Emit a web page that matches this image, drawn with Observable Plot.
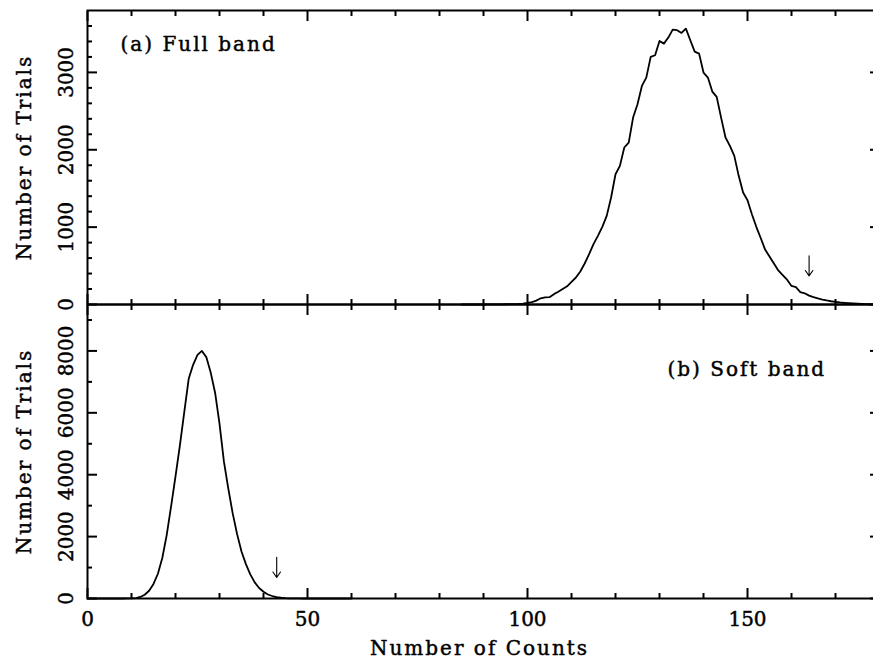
<!DOCTYPE html>
<html><head><meta charset="utf-8">
<script src="https://cdn.jsdelivr.net/npm/d3@7"></script>
<script src="https://cdn.jsdelivr.net/npm/@observablehq/plot@0.6"></script>
<style>
html,body{margin:0;padding:0;background:#fff;}
#wrap{position:relative;width:873px;height:660px;overflow:hidden;background:#fff;}
#wrap svg{position:absolute;left:0;top:0;}
</style></head><body><div id="wrap"></div>
<script>
// ---- Data: (a) Full band ----
const fullCounts = [85,86,87,88,89,90,91,92,93,94,95,96,97,98,99,100,101,102,103,104,105,106,107,108,109,110,111,112,113,114,115,116,117,118,119,120,121,122,123,124,125,126,127,128,129,130,131,132,133,134,135,136,137,138,139,140,141,142,143,144,145,146,147,148,149,150,151,152,153,154,155,156,157,158,159,160,161,162,163,164,165,166,167,168,169,170,171,172,173,174,175,176,177,178,179,180];
const fullTrials = [0,0,0,0,0,0,1,1,2,2,3,4,5,7,12,20,32,50,80,92,95,134,164,200,235,293,349,426,530,650,780,887,1004,1146,1383,1684,1792,2029,2093,2416,2589,2825,2933,3200,3222,3407,3372,3450,3553,3545,3510,3566,3416,3269,3243,2998,2933,2752,2683,2416,2158,2050,1921,1663,1447,1348,1167,1004,860,710,620,530,440,380,320,240,225,160,145,115,95,78,64,52,42,34,27,22,17,13,10,7,5,3,2,1];

// ---- Data: (b) Soft band ----
const softCounts = [0,1,2,3,4,5,6,7,8,9,10,11,12,13,14,15,16,17,18,19,20,21,22,23,24,25,26,27,28,29,30,31,32,33,34,35,36,37,38,39,40,41,42,43,44,45,46,47,48,49,50,55,60];
const softTrials = [0,0,0,0,0,0,0,0,0,2,6,15,50,120,250,470,800,1310,2050,2980,3950,4950,6030,7100,7550,7870,8000,7800,7300,6650,5650,4430,3550,2750,2080,1520,1110,780,520,340,220,130,80,45,25,12,6,3,1,0,0,0,0];

// ---- Axes / ticks ----
const xDomain = [0, 180];
const xMajor = [0, 50, 100, 150];
const xMinor = [10, 20, 30, 40, 60, 70, 80, 90, 110, 120, 130, 140, 160, 170];
const fullYDomain = [0, 3800];
const fullYMajor = [0, 1000, 2000, 3000];
const fullYMinor = [200, 400, 600, 800, 1200, 1400, 1600, 1800, 2200, 2400, 2600, 2800, 3200, 3400, 3600];
const softYDomain = [0, 9500];
const softYMajor = [0, 2000, 4000, 6000, 8000];
const softYMinor = [1000, 3000, 5000, 7000, 9000];

// ---- Annotations ----
const fullLabel = [{x: 7.5, y: 3280, text: "(a) Full band"}];
const softLabel = [{x: 131.8, y: 7180, text: "(b) Soft band"}];
const fullArrow = [{x: 164, from: 630, to: 370}];
const softArrow = [{x: 43, from: 1330, to: 680}];

const xTitle = "Number of Counts";
const yTitle = "Number of Trials";

const fullData = fullCounts.map((c, i) => ({c, n: fullTrials[i]}));
const softData = softCounts.map((c, i) => ({c, n: softTrials[i]}));

const W = 873, H = 660;
const style = {fontFamily: "'DejaVu Serif', serif", fontSize: "20px", background: "transparent", overflow: "visible", color: "black"};
const ts = {stroke: "black", strokeWidth: 0.45};

function panel({data, yDomain, yMajor, yMinor, marginTop, marginBottom, label, arrow, xLabels}) {
  const marks = [
    Plot.line(data, {x: "c", y: "n", stroke: "black", strokeWidth: 1.8}),
    Plot.arrow(arrow, {x1: "x", x2: "x", y1: "from", y2: "to", stroke: "black", strokeWidth: 1.1, headLength: 9, headAngle: 70}),
    Plot.text(label, {x: "x", y: "y", text: "text", textAnchor: "start", lineAnchor: "bottom", fill: "black", ...ts}),
    // x ticks (inward) bottom and top
    Plot.axisX(xMajor, {anchor: "bottom", tickSize: -10, strokeWidth: 2, fill: "none", label: null}),
    Plot.axisX(xMinor, {anchor: "bottom", tickSize: -5, strokeWidth: 2, fill: "none", label: null}),
    Plot.axisX(xMajor, {anchor: "top", tickSize: -10, strokeWidth: 2, fill: "none", label: null}),
    Plot.axisX(xMinor, {anchor: "top", tickSize: -5, strokeWidth: 2, fill: "none", label: null}),
    // y ticks (inward) left and right
    Plot.axisY(yMajor, {anchor: "left", tickSize: -10, strokeWidth: 2, fill: "none", label: null}),
    Plot.axisY(yMinor, {anchor: "left", tickSize: -5, strokeWidth: 2, fill: "none", label: null}),
    Plot.axisY(yMajor, {anchor: "right", tickSize: -10, strokeWidth: 2, fill: "none", label: null}),
    Plot.axisY(yMinor, {anchor: "right", tickSize: -5, strokeWidth: 2, fill: "none", label: null}),
    // y tick labels, rotated
    Plot.axisY(yMajor, {anchor: "left", tickSize: 0, tickRotate: -90, tickPadding: 15, label: null, fill: "black", textStroke: "black", textStrokeWidth: 0.45, tickFormat: d => String(d)}),
    // y title
    Plot.text([yTitle], {frameAnchor: "left", text: d => d, rotate: -90, textAnchor: "middle", lineAnchor: "bottom", dx: -57, fill: "black", ...ts}),
    Plot.frame({stroke: "black", strokeWidth: 2})
  ];
  if (xLabels) {
    marks.push(Plot.axisX(xMajor, {anchor: "bottom", tickSize: 0, tickPadding: 13, label: null, fill: "black", textStroke: "black", textStrokeWidth: 0.45, tickFormat: d => String(d)}));
    marks.push(Plot.text([xTitle], {frameAnchor: "bottom", text: d => d, textAnchor: "middle", lineAnchor: "bottom", dy: 56, dx: -4, fill: "black", ...ts}));
  }
  const svg = Plot.plot({
    width: W, height: H,
    marginLeft: 87, marginRight: -6, marginTop, marginBottom,
    style,
    x: {domain: xDomain},
    y: {domain: yDomain},
    marks
  });
  svg.querySelectorAll('g[aria-label="text"] text').forEach(t => t.style.letterSpacing = "2px");
  return svg;
}

const wrap = document.getElementById("wrap");
wrap.appendChild(panel({data: fullData, yDomain: fullYDomain, yMajor: fullYMajor, yMinor: fullYMinor, marginTop: 10, marginBottom: H - 304, label: fullLabel, arrow: fullArrow, xLabels: false}));
wrap.appendChild(panel({data: softData, yDomain: softYDomain, yMajor: softYMajor, yMinor: softYMinor, marginTop: 304, marginBottom: 62, label: softLabel, arrow: softArrow, xLabels: true}));
</script></body></html>
